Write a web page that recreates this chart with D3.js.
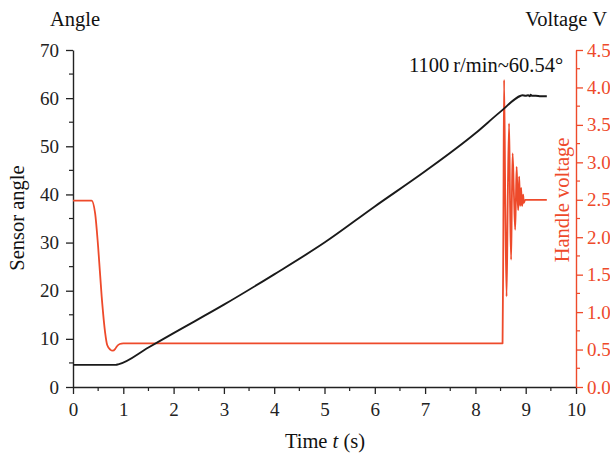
<!DOCTYPE html>
<html><head><meta charset="utf-8">
<script src="https://cdn.jsdelivr.net/npm/d3@7"></script>
<style>body{margin:0;background:#fff}svg{display:block}text{font-family:"Liberation Serif","Times New Roman",serif}</style>
</head><body><svg id="c" width="610" height="458"></svg>
<script>
const xTicks=[0,1,2,3,4,5,6,7,8,9,10];
const angleTicks=[0,10,20,30,40,50,60,70];
const voltTicks=[0,0.5,1,1.5,2,2.5,3,3.5,4,4.5];
// Sensor angle (black)
const angleT=[0,0.3,0.6,0.85,0.9,1.5,2,3,4,5,6,7,8,8.5,8.9,8.93,9.0,9.05,9.08,9.1,9.12,9.2,9.3,9.42];
const angleV=[4.6,4.6,4.6,4.6,4.7,8.2,11.2,17.1,23.4,30.0,37.5,44.8,52.7,57.2,60.5,60.6,60.5,60.6,60.4,60.7,60.5,60.5,60.4,60.4];
// Handle voltage (red)
const voltT=[0,0.37,0.44,0.5,0.57,0.64,0.68,0.74,0.79,0.84,0.87,0.93,1.0,2,3,4,5,6,7,8,8.54,8.555,8.57,8.595,8.62,8.645,8.67,8.69,8.71,8.725,8.74,8.765,8.79,8.805,8.82,8.835,8.85,8.86,8.87,8.88,8.89,8.9,8.91,8.92,8.93,8.94,8.95,8.96,8.97,8.99,9.42];
const voltV=[2.49,2.49,2.32,1.87,1.21,0.72,0.56,0.5,0.485,0.51,0.54,0.574,0.583,0.583,0.583,0.583,0.583,0.583,0.583,0.583,0.583,2.0,4.10,2.4,1.21,2.6,3.52,2.4,1.70,2.5,3.12,2.6,2.10,2.5,2.94,2.6,2.36,2.5,2.81,2.6,2.42,2.5,2.66,2.45,2.42,2.5,2.57,2.46,2.47,2.5,2.5];

const svg=d3.select("#c");
const red="#ee4a2b";
const x=d3.scaleLinear().domain([0,10]).range([73,576]);
const yL=d3.scaleLinear().domain([0,70]).range([387,50]);
const yR=d3.scaleLinear().domain([0,4.5]).range([387,50]);
const fs=19, fl=20.5;

function styleAxis(g,col){
  g.select(".domain").attr("stroke",col).attr("stroke-width",1.4);
  g.selectAll(".tick line").attr("stroke",col).attr("stroke-width",1.3);
  g.selectAll(".tick text").attr("fill",col).attr("font-size",fs).attr("font-family","Liberation Serif, serif");
}
function minor(g,vals,scale,orient,col){
  vals.forEach(v=>{
    if(orient==="bottom") g.append("line").attr("x1",scale(v)).attr("x2",scale(v)).attr("y1",387).attr("y2",391).attr("stroke",col).attr("stroke-width",1.2);
    if(orient==="left") g.append("line").attr("y1",scale(v)).attr("y2",scale(v)).attr("x1",73).attr("x2",69).attr("stroke",col).attr("stroke-width",1.2);
    if(orient==="right") g.append("line").attr("y1",scale(v)).attr("y2",scale(v)).attr("x1",576).attr("x2",580).attr("stroke",col).attr("stroke-width",1.2);
  });
}
const gm=svg.append("g");
minor(gm,d3.range(0.5,10,1),x,"bottom","#222");
minor(gm,d3.range(5,70,10),yL,"left","#222");
minor(gm,d3.range(0.25,4.5,0.5),yR,"right",red);

const gx=svg.append("g").attr("transform","translate(0,387)").call(d3.axisBottom(x).tickValues(xTicks).tickFormat(d3.format("d")).tickSize(7).tickSizeOuter(0).tickPadding(9));
styleAxis(gx,"#222");
const gl=svg.append("g").attr("transform","translate(73,0)").call(d3.axisLeft(yL).tickValues(angleTicks).tickSize(7).tickSizeOuter(0).tickPadding(7));
styleAxis(gl,"#222");
const gr=svg.append("g").attr("transform","translate(576,0)").call(d3.axisRight(yR).tickValues(voltTicks).tickFormat(d3.format(".1f")).tickSize(7).tickSizeOuter(0).tickPadding(4));
styleAxis(gr,red);

const lineA=d3.line().curve(d3.curveMonotoneX).x((d,i)=>x(angleT[i])).y(d=>yL(d));
const lineV=d3.line().curve(d3.curveMonotoneX).x((d,i)=>x(voltT[i])).y(d=>yR(d));
svg.append("path").attr("d",lineV(voltV)).attr("fill","none").attr("stroke",red).attr("stroke-width",1.8).attr("stroke-linejoin","round");
svg.append("path").attr("d",lineA(angleV)).attr("fill","none").attr("stroke","#1a1a1a").attr("stroke-width",1.9).attr("stroke-linejoin","round");

svg.append("text").attr("x",75).attr("y",26).attr("text-anchor","middle").attr("font-size",fl).attr("fill","#111").text("Angle");
svg.append("text").attr("x",607).attr("y",26).attr("text-anchor","end").attr("font-size",fl).attr("fill","#111").text("Voltage V");
svg.append("text").attr("transform","translate(24,218) rotate(-90)").attr("text-anchor","middle").attr("font-size",fl).attr("fill","#111").text("Sensor angle");
svg.append("text").attr("transform","translate(569,200) rotate(-90)").attr("text-anchor","middle").attr("font-size",fl).attr("fill",red).text("Handle voltage");
const tl=svg.append("text").attr("x",325).attr("y",448).attr("text-anchor","middle").attr("font-size",fl).attr("fill","#111");
tl.append("tspan").text("Time ");
tl.append("tspan").attr("font-style","italic").text("t");
tl.append("tspan").text(" (s)");
svg.append("text").attr("x",486).attr("y",72).attr("text-anchor","middle").attr("font-size",fl).attr("fill","#111").text("1100\u2009r/min~60.54°");
</script></body></html>
